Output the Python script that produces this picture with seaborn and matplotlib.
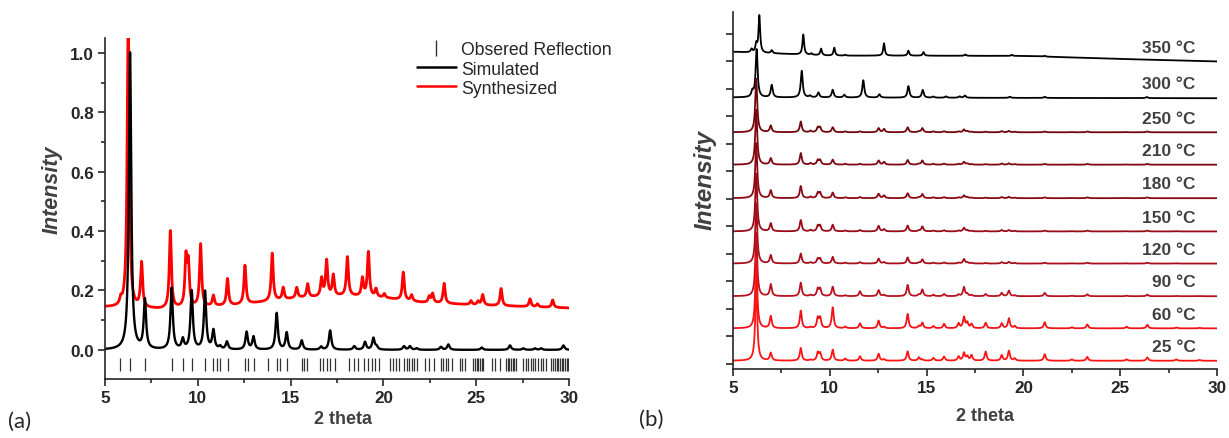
import numpy as np
import matplotlib
matplotlib.use("Agg")
import matplotlib.pyplot as plt
from matplotlib.lines import Line2D
from matplotlib.ticker import MultipleLocator, NullFormatter
import seaborn as sns

# -------------------
# (a) simulated vs synthesized pattern
# -------------------
sim_pos = [6.35, 7.15, 8.59, 9.19, 9.67, 10.39, 10.84, 11.2, 11.57, 12.63, 13.0,
           14.25, 14.79, 15.6, 16.64, 17.13, 18.43, 19.01, 19.46, 19.63, 21.11,
           21.43, 21.79, 23.1, 23.5, 25.3, 26.82, 27.54, 28.17, 28.5, 29.7]
sim_int = [1.0, 0.165, 0.207, 0.033, 0.197, 0.195, 0.063, 0.01, 0.026, 0.059, 0.043,
           0.123, 0.057, 0.031, 0.01, 0.065, 0.012, 0.026, 0.039, 0.01, 0.012,
           0.012, 0.005, 0.01, 0.018, 0.008, 0.015, 0.005, 0.005, 0.005, 0.015]

syn_pos = [5.85, 6.25, 6.97, 8.52, 9.36, 9.49, 10.15, 10.84, 11.6, 12.54, 14.01,
           14.6, 15.33, 15.92, 16.67, 16.94, 17.3, 18.06, 18.87, 19.19, 19.6,
           20.05, 21.07, 21.52, 22.47, 22.65, 23.27, 24.72, 25.1, 25.35, 26.34,
           27.9, 28.3, 29.12]
syn_int = [0.02, 1.0, 0.15, 0.26, 0.16, 0.14, 0.21, 0.035, 0.09, 0.13, 0.16,
           0.04, 0.035, 0.045, 0.06, 0.12, 0.07, 0.13, 0.06, 0.15, 0.027,
           0.013, 0.094, 0.02, 0.02, 0.03, 0.067, 0.013, 0.012, 0.035, 0.058,
           0.026, 0.01, 0.025]
syn_base_x = [5, 8, 12, 15.5, 18, 20, 22, 25, 30]
syn_base_y = [0.144, 0.137, 0.150, 0.175, 0.182, 0.175, 0.160, 0.151, 0.141]

refl_pos = [5.81, 6.35, 7.16, 8.59, 9.22, 9.67, 10.39, 10.84, 11.02, 11.2, 11.61,
            12.54, 12.69, 13.01, 13.8, 14.25, 14.43, 14.79, 15.6, 15.72, 15.87,
            16.58, 16.76, 16.94, 17.12, 17.39, 18.15, 18.42, 18.61, 18.97, 19.19,
            19.37, 19.55, 19.76, 20.36, 20.53, 20.68, 20.86, 21.13, 21.26, 21.38,
            21.52, 21.66, 21.79, 22.24, 22.46, 22.73, 23.1, 23.23, 23.36, 23.5,
            23.71, 24.13, 24.22, 24.4, 24.85, 24.94, 25.03, 25.12, 25.2, 25.29,
            25.38, 25.83, 26.01, 26.28, 26.59, 26.69, 26.78, 26.87, 26.96, 27.05,
            27.14, 27.54, 27.66, 27.81, 27.95, 28.08, 28.17, 28.35, 28.49, 28.62,
            28.74, 29.03, 29.15, 29.24, 29.33, 29.42, 29.51, 29.6, 29.69, 29.78,
            29.87, 29.96]

# -------------------
# (b) variable temperature patterns
# -------------------
temps = ["25", "60", "90", "120", "150", "180", "210", "250", "300", "350"]
vt_pos = [6.2, 6.95, 8.5, 9.0, 9.38, 9.5, 10.15, 10.8, 11.56, 12.52, 12.8, 14.02,
          14.6, 14.78, 15.35, 15.9, 16.65, 16.93, 17.1, 17.32, 18.05, 18.88,
          19.25, 19.55, 21.1, 22.5, 23.3, 25.33, 26.4, 27.9, 29.1]
h25 = [3.0, 0.28, 0.46, 0.03, 0.28, 0.26, 0.4, 0.08, 0.16, 0.25, 0.05, 0.34,
       0.12, 0.04, 0.1, 0.15, 0.15, 0.28, 0.15, 0.2, 0.33, 0.2, 0.36, 0.08,
       0.24, 0.05, 0.14, 0.05, 0.12, 0.05, 0.03]
h60 = [2.6, 0.44, 0.64, 0.04, 0.36, 0.36, 0.76, 0.06, 0.18, 0.28, 0.05, 0.52,
       0.08, 0.2, 0.08, 0.16, 0.18, 0.4, 0.2, 0.15, 0.2, 0.18, 0.36, 0.08,
       0.22, 0.04, 0.14, 0.06, 0.13, 0.03, 0.02]
h90 = [2.3, 0.43, 0.49, 0.04, 0.26, 0.26, 0.34, 0.03, 0.18, 0.22, 0.05, 0.41,
       0.05, 0.24, 0.05, 0.08, 0.06, 0.33, 0.08, 0.04, 0.08, 0.12, 0.2, 0.03,
       0.12, 0.02, 0.07, 0.02, 0.06, 0.01, 0.01]
h120 = [2.2, 0.3, 0.36, 0.04, 0.17, 0.17, 0.24, 0.03, 0.05, 0.18, 0.05, 0.22,
        0.03, 0.15, 0.03, 0.04, 0.03, 0.16, 0.04, 0.02, 0.02, 0.05, 0.06, 0.02,
        0.03, 0.01, 0.03, 0.01, 0.03, 0.01, 0.0]
h150 = [2.1, 0.29, 0.41, 0.05, 0.2, 0.2, 0.24, 0.03, 0.05, 0.2, 0.08, 0.21,
        0.03, 0.18, 0.03, 0.04, 0.03, 0.13, 0.04, 0.02, 0.02, 0.05, 0.05, 0.02,
        0.03, 0.01, 0.03, 0.01, 0.03, 0.01, 0.0]
h180 = [2.0, 0.28, 0.44, 0.05, 0.19, 0.19, 0.2, 0.03, 0.04, 0.16, 0.1, 0.18,
        0.03, 0.15, 0.03, 0.04, 0.03, 0.1, 0.04, 0.02, 0.02, 0.04, 0.05, 0.02,
        0.03, 0.01, 0.03, 0.01, 0.03, 0.0, 0.0]
h210 = [2.0, 0.23, 0.42, 0.05, 0.16, 0.16, 0.18, 0.03, 0.03, 0.15, 0.1, 0.17,
        0.03, 0.15, 0.03, 0.04, 0.03, 0.1, 0.04, 0.02, 0.02, 0.04, 0.05, 0.02,
        0.03, 0.01, 0.03, 0.01, 0.03, 0.0, 0.0]
h250 = [1.95, 0.24, 0.39, 0.05, 0.17, 0.17, 0.18, 0.03, 0.03, 0.15, 0.12, 0.18,
        0.03, 0.15, 0.03, 0.04, 0.03, 0.1, 0.04, 0.02, 0.02, 0.04, 0.05, 0.02,
        0.03, 0.01, 0.03, 0.01, 0.03, 0.0, 0.0]
pos300 = [6.0, 6.22, 7.0, 8.55, 8.98, 9.41, 10.15, 10.75, 11.73, 12.56, 14.06,
          14.8, 15.35, 16.0, 16.7, 16.98, 19.3, 21.1, 26.37]
h300 = [0.2, 1.75, 0.45, 0.97, 0.06, 0.18, 0.28, 0.1, 0.63, 0.12, 0.42,
        0.28, 0.04, 0.05, 0.05, 0.08, 0.04, 0.04, 0.04]
pos350 = [5.96, 6.2, 6.36, 7.0, 8.63, 9.05, 9.55, 10.23, 10.8, 12.8, 14.06,
          14.84, 17.0, 19.4, 21.1]
h350 = [0.12, 0.3, 1.35, 0.11, 0.73, 0.05, 0.24, 0.29, 0.03, 0.45, 0.18,
        0.13, 0.05, 0.04, 0.03]

base_red = [0.10, 1.28, 2.45, 3.64, 4.81, 6.02, 7.24, 8.42]
base300_x = [5, 30]
base300_y = [9.69, 9.66]
base350_x = [5, 10, 14, 20, 25, 30]
base350_y = [11.35, 11.21, 11.21, 11.2, 11.09, 11.0]

colors = ["#ff1414", "#f01216", "#b8121e", "#a80e1a", "#980a16", "#8a0912",
          "#7e0710", "#70050c", "#000000", "#000000"]


def pattern(x, pos, amp, width):
    y = np.zeros_like(x)
    for p, a in zip(pos, amp):
        y += a / (1 + ((x - p) / width) ** 2)
    return y


sns.set_style("ticks")
plt.rcParams['font.family'] = ['Liberation Sans', 'DejaVu Sans']
plt.rcParams['axes.linewidth'] = 1.2

fig = plt.figure(figsize=(12.29, 4.39), dpi=100)
tt = np.linspace(5, 30, 6001)

# ---- panel (a) ----
ax1 = fig.add_axes([105 / 1229, 1 - 380 / 439, 464 / 1229, 341 / 439])
y_syn = np.interp(tt, syn_base_x, syn_base_y) + pattern(tt, syn_pos, syn_int, 0.065)
y_sim = pattern(tt, sim_pos, sim_int, 0.075)
sns.lineplot(x=tt, y=y_syn, ax=ax1, color="#ff0000", lw=2.0, estimator=None, sort=False)
sns.lineplot(x=tt, y=y_sim, ax=ax1, color="black", lw=1.7, estimator=None, sort=False)
ax1.vlines(refl_pos, -0.072, -0.027, color="#333333", lw=0.9)

ax1.set_xlim(5, 30)
ax1.set_ylim(-0.098, 1.05)
ax1.xaxis.set_major_locator(MultipleLocator(5))
ax1.xaxis.set_minor_locator(MultipleLocator(2.5))
ax1.yaxis.set_major_locator(MultipleLocator(0.2))
ax1.yaxis.set_minor_locator(MultipleLocator(0.1))
ax1.yaxis.set_major_formatter(plt.FuncFormatter(lambda v, p: f"{v:.1f}"))
ax1.set_xlabel("")
ax1.set_ylabel("")
sns.despine(ax=ax1)

legend_handles = [
    Line2D([], [], marker="|", linestyle="None", color="#333333", markersize=11, mew=1.0),
    Line2D([], [], color="black", lw=1.8),
    Line2D([], [], color="#ff0000", lw=1.8),
]
ax1.legend(legend_handles, ["Obsered Reflection", "Simulated", "Synthesized"],
           loc="upper left", bbox_to_anchor=(0.672, 0.99), frameon=False,
           fontsize=12.7, handlelength=2.2, handletextpad=0.3, labelspacing=0.12,
           borderpad=0, borderaxespad=0)

# ---- panel (b) ----
ax2 = fig.add_axes([733 / 1229, 1 - 370 / 439, 484 / 1229, 357 / 439])
heights = [h25, h60, h90, h120, h150, h180, h210, h250]
curves = []
for base, h in zip(base_red, heights):
    curves.append(base + pattern(tt, vt_pos, h, 0.06))
curves.append(np.interp(tt, base300_x, base300_y) + pattern(tt, pos300, h300, 0.06))
curves.append(np.interp(tt, base350_x, base350_y) + pattern(tt, pos350, h350, 0.05))

for i in range(len(temps) - 1, -1, -1):
    sns.lineplot(x=tt, y=curves[i], ax=ax2, color=colors[i], lw=1.3,
                 estimator=None, sort=False)

label_y = base_red + [base300_y[-1], base350_y[-1]]
for t, yb in zip(temps, label_y):
    ax2.text(28.9, yb + 0.52, f"{t} °C", ha="right", va="center",
             fontsize=12.5, fontweight="bold", color="#404040")

ax2.set_xlim(5, 30)
ax2.set_ylim(-0.2, 12.8)
ax2.xaxis.set_major_locator(MultipleLocator(5))
ax2.xaxis.set_minor_locator(MultipleLocator(2.5))
ax2.yaxis.set_major_locator(MultipleLocator(1))
ax2.yaxis.set_major_formatter(NullFormatter())
ax2.set_xlabel("")
ax2.set_ylabel("")
sns.despine(ax=ax2)

for ax in (ax1, ax2):
    ax.tick_params(which="major", direction="out", length=5, width=1.2,
                   labelsize=12.3, pad=3)
    ax.tick_params(which="minor", direction="out", length=3, width=1.2)
    for lab in ax.get_xticklabels() + ax.get_yticklabels():
        lab.set_fontweight("bold")

# axis titles and panel letters
fig.text(343 / 1229, 1 - 420 / 439, "2 theta", ha="center", va="center",
         fontsize=13, fontweight="bold", color="#404040")
fig.text(985 / 1229, 1 - 417 / 439, "2 theta", ha="center", va="center",
         fontsize=13, fontweight="bold", color="#404040")
fig.text(52 / 1229, 1 - 190 / 439, "Intensity", ha="center", va="center", rotation=90,
         fontsize=15.5, fontweight="bold", fontstyle="italic", color="#404040")
fig.text(705 / 1229, 1 - 180 / 439, "Intensity", ha="center", va="center", rotation=90,
         fontsize=17.5, fontweight="bold", fontstyle="italic", color="#404040")
fig.text(20 / 1229, 1 - 422 / 439, "(a)", ha="center", va="center",
         fontsize=16, family=["Lato", "DejaVu Sans"])
fig.text(651 / 1229, 1 - 420 / 439, "(b)", ha="center", va="center",
         fontsize=16, family=["Lato", "DejaVu Sans"])

plt.savefig("out.png", dpi=100)
plt.close()
